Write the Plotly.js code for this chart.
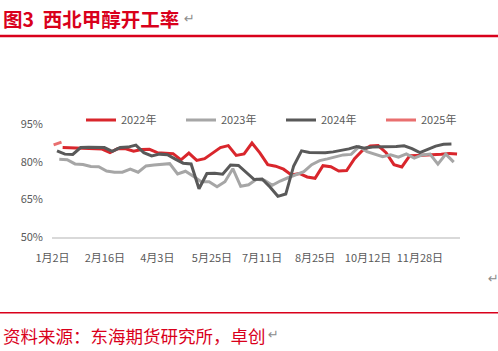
<!DOCTYPE html>
<html>
<head>
<meta charset="utf-8">
<script src="https://cdn.plot.ly/plotly-3.0.1.min.js"></script>
<style>
  html, body { margin: 0; padding: 0; background: #fff; }
  #chart { width: 498px; height: 351px; }
</style>
</head>
<body>
<div id="chart"></div>
<script>
// ---- data ----
const seriesNames = ['2022年', '2023年', '2024年', '2025年'];
// first report day of each year, counted from 1月2日 (weekly data afterwards)
const startDays = [9, 6, 4, 1];
const v2022 = [85.6,85.5,85.4,85.3,85.2,85.0,83.6,85.2,85.1,84.2,84.8,84.9,83.6,83.3,83.2,80.7,83.4,80.5,81.2,83.4,
               85.6,86.4,82.5,83.1,87.4,83.5,78.8,78.2,77.0,74.7,75.3,73.9,73.4,78.4,78.0,76.3,76.5,81.2,84.5,86.2,
               86.4,83.6,78.8,77.9,82.4,82.5,82.6,82.7,83.0,83.3,83.1];
const v2023 = [81.0,80.8,79.1,78.9,78.1,78.0,76.3,75.8,75.8,77.0,75.8,78.3,78.7,79.1,79.2,75.1,76.2,74.2,72.0,72.0,
               70.0,72.0,77.2,70.2,70.8,73.0,72.6,70.6,72.3,73.6,74.8,76.0,78.8,80.4,81.1,82.0,82.7,82.9,86.0,84.0,
               83.0,82.0,82.7,81.8,83.1,81.4,82.7,83.0,79.0,83.0,79.8];
const v2024 = [84.3,83.0,82.9,85.6,85.7,85.7,85.6,84.1,85.6,85.8,86.6,83.6,82.3,83.0,82.8,81.0,79.4,79.1,69.2,75.3,
               75.4,75.0,78.7,78.5,75.5,72.9,73.1,69.9,66.2,67.1,78.3,84.3,83.7,83.5,83.6,83.9,84.5,85.1,86.0,85.4,
               85.8,85.8,85.8,86.0,86.3,85.2,83.6,84.8,86.2,86.9,87.0];
const v2025 = [86.7, 87.8];
const tickLabels = ['1月2日','2月16日','4月3日','5月25日','7月11日','8月25日','10月12日','11月28日'];
const tickDays = [0, 46.5, 93, 141.5, 186, 233, 280, 326];
const yTicks = [50, 65, 80, 95];

// ---- styles ----
const colors = ['#d9262c', '#a6a6a6', '#595959', '#e96f6f'];
const values = [v2022, v2023, v2024, v2025];
const RED = '#d9001b';
const FONT = '"Noto Sans CJK SC", "Noto Sans", sans-serif';
const legendIds = ['legend', 'legend2', 'legend3', 'legend4'];
const legendLeftPx = [81, 181, 281, 381];

function weekly(start, n) {
  const out = [];
  for (let i = 0; i < n; i++) out.push(start + 7 * i);
  return out;
}

const traces = values.map((vals, k) => ({
  type: 'scatter',
  mode: 'lines',
  name: seriesNames[k],
  legend: legendIds[k],
  x: weekly(startDays[k], vals.length),
  y: vals,
  line: { color: colors[k], width: 3 },
  hoverinfo: 'skip'
}));

// pixel helpers for decorative items outside the plot
const L = 52, R = 38, T = 124, B = 114, W = 498, H = 351;
const pw = W - L - R, ph = H - T - B;
const px = v => (v - L) / pw;
const py = v => (H - B - v) / ph;

const layout = {
  width: W, height: H,
  margin: { l: L, r: R, t: T, b: B },
  paper_bgcolor: '#ffffff',
  plot_bgcolor: '#ffffff',
  font: { family: FONT, size: 11, color: '#595959' },
  showlegend: true,
  xaxis: {
    range: [-0.44, 361.6],
    tickvals: tickDays,
    ticktext: tickLabels,
    showgrid: false,
    zeroline: false,
    showline: true,
    linecolor: '#d9d9d9',
    linewidth: 1.5,
    ticks: '',
    ticklabelstandoff: 10,
    tickfont: { family: FONT, size: 11, color: '#595959' },
    fixedrange: true
  },
  yaxis: {
    range: [50, 95],
    tickvals: yTicks,
    ticktext: yTicks.map(v => v + '%'),
    showgrid: false,
    zeroline: false,
    showline: false,
    ticks: '',
    ticklabelstandoff: 8,
    tickfont: { family: FONT, size: 11, color: '#595959' },
    fixedrange: true
  },
  shapes: [
    { type: 'line', xref: 'paper', yref: 'paper', x0: px(0), x1: px(W), y0: py(36), y1: py(36),
      line: { color: RED, width: 2.3 } },
    { type: 'line', xref: 'paper', yref: 'paper', x0: px(0), x1: px(W), y0: py(312.7), y1: py(312.7),
      line: { color: RED, width: 1.5 } }
  ],
  annotations: [
    { xref: 'paper', yref: 'paper', x: px(1), y: py(18), xanchor: 'left', yanchor: 'middle',
      text: '<b>图3  西北甲醇开工率</b>', showarrow: false,
      font: { family: FONT, size: 19.5, color: RED } },
    { xref: 'paper', yref: 'paper', x: px(182), y: py(18), xanchor: 'left', yanchor: 'middle',
      text: '↵', showarrow: false, font: { family: 'DejaVu Sans', size: 13, color: '#8c8c8c' } },
    { xref: 'paper', yref: 'paper', x: px(1), y: py(335), xanchor: 'left', yanchor: 'middle',
      text: '资料来源：东海期货研究所，卓创', showarrow: false,
      font: { family: FONT, size: 17.5, color: RED } },
    { xref: 'paper', yref: 'paper', x: px(266), y: py(334), xanchor: 'left', yanchor: 'middle',
      text: '↵', showarrow: false, font: { family: 'DejaVu Sans', size: 13, color: '#8c8c8c' } },
    { xref: 'paper', yref: 'paper', x: px(486), y: py(278), xanchor: 'left', yanchor: 'middle',
      text: '↵', showarrow: false, font: { family: 'DejaVu Sans', size: 13, color: '#8c8c8c' } }
  ]
};

legendIds.forEach((id, k) => {
  layout[id] = {
    orientation: 'h',
    x: px(legendLeftPx[k]), xanchor: 'left',
    y: py(120), yanchor: 'middle',
    font: { family: FONT, size: 11, color: '#595959' },
    bgcolor: 'rgba(0,0,0,0)'
  };
});

Plotly.newPlot('chart', traces, layout, { displayModeBar: false, staticPlot: true });
</script>
</body>
</html>
